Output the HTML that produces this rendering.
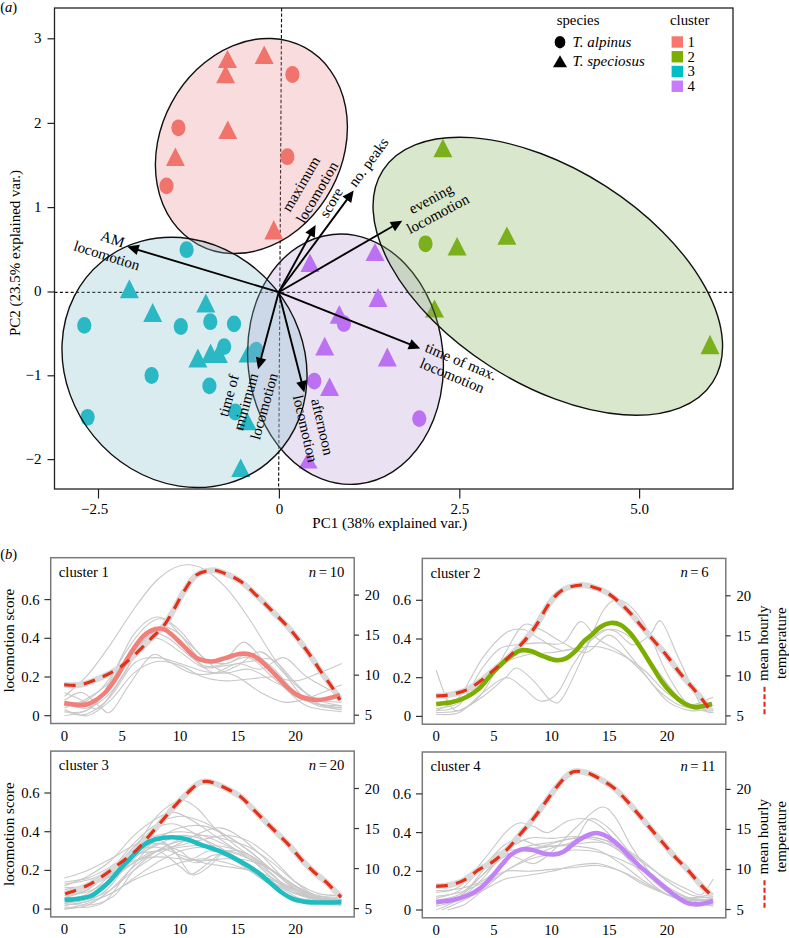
<!DOCTYPE html>
<html><head><meta charset="utf-8"><title>figure</title>
<style>html,body{margin:0;padding:0;background:#fff;}svg{display:block;font-family:"Liberation Serif",serif;}</style>
</head><body>
<svg width="789" height="938" viewBox="0 0 789 938" font-family="Liberation Serif, serif">
<rect width="789" height="938" fill="#fff"/>
<defs>
<clipPath id="pa"><rect x="54.5" y="8" width="678.5" height="481"/></clipPath>
</defs>
<g clip-path="url(#pa)">
<line x1="54.5" y1="292.3" x2="733" y2="292.3" stroke="#111" stroke-width="1.25" stroke-dasharray="3,2.4"/>
<line x1="281.6" y1="8" x2="278.6" y2="489" stroke="#111" stroke-width="1.15" stroke-dasharray="3.4,2"/>
<ellipse cx="292.4" cy="74.5" rx="7.1" ry="8.4" fill="rgb(244,105,92)"/>
<ellipse cx="178.4" cy="127.8" rx="7.1" ry="8.4" fill="rgb(244,105,92)"/>
<ellipse cx="287.4" cy="156.7" rx="7.1" ry="8.4" fill="rgb(244,105,92)"/>
<ellipse cx="166.5" cy="185.9" rx="7.1" ry="8.4" fill="rgb(244,105,92)"/>
<polygon points="227.5,50.1 218,68.1 237,68.1" fill="rgb(244,105,92)"/>
<polygon points="225.6,65 216.1,83.2 235.1,83.2" fill="rgb(244,105,92)"/>
<polygon points="264.2,45.5 254.7,64.1 273.7,64.1" fill="rgb(244,105,92)"/>
<polygon points="227.8,120.4 218.3,139.1 237.3,139.1" fill="rgb(244,105,92)"/>
<polygon points="175.4,147.4 165.9,166 184.9,166" fill="rgb(244,105,92)"/>
<polygon points="273.8,220.1 264.3,239.6 283.3,239.6" fill="rgb(244,105,92)"/>
<ellipse cx="425.5" cy="243.8" rx="7.1" ry="8.4" fill="rgb(119,175,0)"/>
<polygon points="434.5,299.4 425,317.6 444,317.6" fill="rgb(119,175,0)"/>
<polygon points="442.9,138.7 433.4,157.2 452.4,157.2" fill="rgb(119,175,0)"/>
<polygon points="457.1,237 447.6,255.4 466.6,255.4" fill="rgb(119,175,0)"/>
<polygon points="506.9,226.4 497.4,244.8 516.4,244.8" fill="rgb(119,175,0)"/>
<polygon points="710,334.8 700.5,354.2 719.5,354.2" fill="rgb(119,175,0)"/>
<ellipse cx="186.6" cy="249.7" rx="7.1" ry="8.4" fill="rgb(0,181,192)"/>
<ellipse cx="84.3" cy="325.4" rx="7.1" ry="8.4" fill="rgb(0,181,192)"/>
<ellipse cx="180.8" cy="326.5" rx="7.1" ry="8.4" fill="rgb(0,181,192)"/>
<ellipse cx="210.3" cy="321.7" rx="7.1" ry="8.4" fill="rgb(0,181,192)"/>
<ellipse cx="234" cy="323.9" rx="7.1" ry="8.4" fill="rgb(0,181,192)"/>
<ellipse cx="224.2" cy="346.6" rx="7.1" ry="8.4" fill="rgb(0,181,192)"/>
<ellipse cx="256.2" cy="350.1" rx="7.1" ry="8.4" fill="rgb(0,181,192)"/>
<ellipse cx="151.6" cy="375.5" rx="7.1" ry="8.4" fill="rgb(0,181,192)"/>
<ellipse cx="209.4" cy="385.9" rx="7.1" ry="8.4" fill="rgb(0,181,192)"/>
<ellipse cx="87.6" cy="417.3" rx="7.1" ry="8.4" fill="rgb(0,181,192)"/>
<ellipse cx="235.3" cy="412" rx="7.1" ry="8.4" fill="rgb(0,181,192)"/>
<polygon points="129.4,279.2 119.9,298.2 138.9,298.2" fill="rgb(0,181,192)"/>
<polygon points="152.7,303 143.2,321.9 162.2,321.9" fill="rgb(0,181,192)"/>
<polygon points="205.8,293.5 196.3,312.4 215.3,312.4" fill="rgb(0,181,192)"/>
<polygon points="197.9,348.6 188.4,367.4 207.4,367.4" fill="rgb(0,181,192)"/>
<polygon points="210.6,343.5 201.1,363 220.1,363" fill="rgb(0,181,192)"/>
<polygon points="218.4,344.1 208.9,363 227.9,363" fill="rgb(0,181,192)"/>
<polygon points="248,344.8 238.5,362.5 257.5,362.5" fill="rgb(0,181,192)"/>
<polygon points="247.3,412.4 237.8,430.2 256.8,430.2" fill="rgb(0,181,192)"/>
<polygon points="240.7,458.6 231.2,477 250.2,477" fill="rgb(0,181,192)"/>
<ellipse cx="343.9" cy="323.6" rx="7.1" ry="8.4" fill="rgb(189,92,255)"/>
<ellipse cx="314.3" cy="381.1" rx="7.1" ry="8.4" fill="rgb(189,92,255)"/>
<ellipse cx="419.3" cy="418.6" rx="7.1" ry="8.4" fill="rgb(189,92,255)"/>
<polygon points="310,253.6 300.5,272.1 319.5,272.1" fill="rgb(189,92,255)"/>
<polygon points="375,243 365.5,260.9 384.5,260.9" fill="rgb(189,92,255)"/>
<polygon points="378,288.1 368.5,307.1 387.5,307.1" fill="rgb(189,92,255)"/>
<polygon points="339.3,304.9 329.8,323.8 348.8,323.8" fill="rgb(189,92,255)"/>
<polygon points="324.7,336.8 315.2,355.6 334.2,355.6" fill="rgb(189,92,255)"/>
<polygon points="387.3,347.5 377.8,366.6 396.8,366.6" fill="rgb(189,92,255)"/>
<polygon points="329.6,377.4 320.1,396.1 339.1,396.1" fill="rgb(189,92,255)"/>
<polygon points="308.1,451.9 298.6,468.6 317.6,468.6" fill="rgb(189,92,255)"/>
<ellipse cx="251.4" cy="146" rx="90.8" ry="112" transform="rotate(-151.6 251.4 146)" fill="rgb(232,138,145)" fill-opacity="0.3" stroke="#111" stroke-width="1.4"/>
<ellipse cx="345.5" cy="359.2" rx="97.6" ry="125.4" transform="rotate(174.2 345.5 359.2)" fill="rgb(185,158,212)" fill-opacity="0.3" stroke="#111" stroke-width="1.4"/>
<ellipse cx="184.5" cy="362.4" rx="117" ry="130.3" transform="rotate(140.6 184.5 362.4)" fill="rgb(135,192,205)" fill-opacity="0.3" stroke="#111" stroke-width="1.4"/>
<ellipse cx="547.8" cy="276.2" rx="107" ry="196" transform="rotate(122.7 547.8 276.2)" fill="rgb(128,178,88)" fill-opacity="0.3" stroke="#111" stroke-width="1.4"/>
</g>
<line x1="278.7" y1="292.2" x2="136.3" y2="249.34" stroke="#000" stroke-width="1.9"/>
<polygon points="127.2,246.6 139.77,244.74 136.66,255.09" fill="#000"/>
<line x1="278.7" y1="292.2" x2="311.03" y2="233.33" stroke="#000" stroke-width="1.9"/>
<polygon points="315.6,225 314.8,237.68 305.33,232.48" fill="#000"/>
<line x1="278.7" y1="292.2" x2="348.06" y2="198.15" stroke="#000" stroke-width="1.9"/>
<polygon points="353.7,190.5 351.22,202.96 342.53,196.55" fill="#000"/>
<line x1="278.7" y1="292.2" x2="394.07" y2="225.55" stroke="#000" stroke-width="1.9"/>
<polygon points="402.3,220.8 395.04,231.23 389.64,221.88" fill="#000"/>
<line x1="278.7" y1="292.2" x2="411.37" y2="344.89" stroke="#000" stroke-width="1.9"/>
<polygon points="420.2,348.4 407.52,349.17 411.51,339.14" fill="#000"/>
<line x1="278.7" y1="292.2" x2="260.56" y2="360.02" stroke="#000" stroke-width="1.9"/>
<polygon points="258.1,369.2 255.86,356.7 266.29,359.49" fill="#000"/>
<line x1="278.7" y1="292.2" x2="301.95" y2="383.3" stroke="#000" stroke-width="1.9"/>
<polygon points="304.3,392.5 296.22,382.69 306.69,380.02" fill="#000"/>
<text x="111.1" y="243.8" font-size="15" text-anchor="middle" transform="rotate(18 111.1 243.8)" fill="#000">AM</text>
<text x="105.26" y="260.28" font-size="15" text-anchor="middle" transform="rotate(17.6 105.26 260.28)" fill="#000">locomotion</text>
<text x="305.37" y="186.44" font-size="15" text-anchor="middle" transform="rotate(-59.7 305.37 186.44)" fill="#000">maximum</text>
<text x="321.47" y="194.84" font-size="15" text-anchor="middle" transform="rotate(-59.7 321.47 194.84)" fill="#000">locomotion</text>
<text x="335.47" y="205.04" font-size="15" text-anchor="middle" transform="rotate(-59.7 335.47 205.04)" fill="#000">score</text>
<text x="372.57" y="165.24" font-size="15" text-anchor="middle" transform="rotate(-53.7 372.57 165.24)" fill="#000">no. peaks</text>
<text x="433.32" y="203.14" font-size="15" text-anchor="middle" transform="rotate(-28 433.32 203.14)" fill="#000">evening</text>
<text x="440.12" y="218.34" font-size="15" text-anchor="middle" transform="rotate(-28 440.12 218.34)" fill="#000">locomotion</text>
<text x="459.07" y="365.97" font-size="15" text-anchor="middle" transform="rotate(22.8 459.07 365.97)" fill="#000">time of max.</text>
<text x="450.27" y="380.27" font-size="15" text-anchor="middle" transform="rotate(22.8 450.27 380.27)" fill="#000">locomotion</text>
<text x="233.42" y="396.82" font-size="15" text-anchor="middle" transform="rotate(-74.5 233.42 396.82)" fill="#000">time of</text>
<text x="250.52" y="403.22" font-size="15" text-anchor="middle" transform="rotate(-74.5 250.52 403.22)" fill="#000">minimum</text>
<text x="268.82" y="407.62" font-size="15" text-anchor="middle" transform="rotate(-74.5 268.82 407.62)" fill="#000">locomotion</text>
<text x="317.55" y="427.97" font-size="15" text-anchor="middle" transform="rotate(77 317.55 427.97)" fill="#000">afternoon</text>
<text x="300.45" y="429.87" font-size="15" text-anchor="middle" transform="rotate(77 300.45 429.87)" fill="#000">locomotion</text>
<rect x="54.5" y="8" width="678.5" height="481" fill="none" stroke="#222" stroke-width="1.3"/>
<line x1="47.5" y1="38.8" x2="54.5" y2="38.8" stroke="#222" stroke-width="1.2"/>
<text x="41.5" y="43" font-size="15" text-anchor="end" fill="#000">3</text>
<line x1="47.5" y1="123.4" x2="54.5" y2="123.4" stroke="#222" stroke-width="1.2"/>
<text x="41.5" y="127.6" font-size="15" text-anchor="end" fill="#000">2</text>
<line x1="47.5" y1="207.6" x2="54.5" y2="207.6" stroke="#222" stroke-width="1.2"/>
<text x="41.5" y="211.8" font-size="15" text-anchor="end" fill="#000">1</text>
<line x1="47.5" y1="292" x2="54.5" y2="292" stroke="#222" stroke-width="1.2"/>
<text x="41.5" y="296.2" font-size="15" text-anchor="end" fill="#000">0</text>
<line x1="47.5" y1="375.8" x2="54.5" y2="375.8" stroke="#222" stroke-width="1.2"/>
<text x="41.5" y="380" font-size="15" text-anchor="end" fill="#000">−1</text>
<line x1="47.5" y1="459.6" x2="54.5" y2="459.6" stroke="#222" stroke-width="1.2"/>
<text x="41.5" y="463.8" font-size="15" text-anchor="end" fill="#000">−2</text>
<line x1="98.5" y1="489" x2="98.5" y2="498.5" stroke="#222" stroke-width="1.2"/>
<text x="94.7" y="514" font-size="15" text-anchor="middle" fill="#000">−2.5</text>
<line x1="279.4" y1="489" x2="279.4" y2="498.5" stroke="#222" stroke-width="1.2"/>
<text x="279.4" y="514" font-size="15" text-anchor="middle" fill="#000">0</text>
<line x1="459.8" y1="489" x2="459.8" y2="498.5" stroke="#222" stroke-width="1.2"/>
<text x="459.8" y="514" font-size="15" text-anchor="middle" fill="#000">2.5</text>
<line x1="639.6" y1="489" x2="639.6" y2="498.5" stroke="#222" stroke-width="1.2"/>
<text x="639.6" y="514" font-size="15" text-anchor="middle" fill="#000">5.0</text>
<text x="389.8" y="528.4" font-size="15" text-anchor="middle" fill="#000">PC1 (38% explained var.)</text>
<text x="19.8" y="253" font-size="15" text-anchor="middle" transform="rotate(-90 19.8 253)" fill="#000">PC2 (23.5% explained var.)</text>
<text x="0.2" y="12.2" font-size="14.6">(<tspan font-style="italic">a</tspan>)</text>
<text x="556.7" y="25.2" font-size="14.8" text-anchor="start" fill="#000">species</text>
<text x="670" y="25.2" font-size="14.8" text-anchor="start" fill="#000">cluster</text>
<ellipse cx="560" cy="42.2" rx="5.3" ry="6.2" fill="#000"/>
<polygon points="560,55.3 553,67.2 567,67.2" fill="#000"/>
<text x="572.5" y="46.7" font-size="15" text-anchor="start" font-style="italic" fill="#000">T. alpinus</text>
<text x="572.5" y="66.3" font-size="15" text-anchor="start" font-style="italic" fill="#000">T. speciosus</text>
<rect x="671.6" y="36.3" width="11.4" height="11.4" fill="#F8766D"/>
<text x="687.4" y="46.9" font-size="14.8" text-anchor="start" fill="#000">1</text>
<rect x="671.6" y="51.05" width="11.4" height="11.4" fill="#7CAE00"/>
<text x="687.4" y="61.65" font-size="14.8" text-anchor="start" fill="#000">2</text>
<rect x="671.6" y="65.8" width="11.4" height="11.4" fill="#00BFC4"/>
<text x="687.4" y="76.4" font-size="14.8" text-anchor="start" fill="#000">3</text>
<rect x="671.6" y="80.55" width="11.4" height="11.4" fill="#C77CFF"/>
<text x="687.4" y="91.15" font-size="14.8" text-anchor="start" fill="#000">4</text>
<text x="0.2" y="558.6" font-size="14.6">(<tspan font-style="italic">b</tspan>)</text>
<clipPath id="pb0"><rect x="50.7" y="557.7" width="303.5" height="165.8"/></clipPath>
<g clip-path="url(#pb0)">
<path d="M64.5,696.35 C68.35,692.8 79.9,683.77 87.6,675.07 C95.3,666.36 103,655.07 110.7,644.11 C118.4,633.14 126.1,619.92 133.8,609.28 C141.5,598.63 149.2,587.51 156.9,580.25 C164.6,572.99 172.3,567.67 180,565.74 C187.7,563.8 195.4,564.93 203.1,568.64 C210.8,572.35 218.5,579.61 226.2,587.99 C233.9,596.38 241.6,607.66 249.3,618.95 C257,630.24 264.7,644.75 272.4,655.72 C280.1,666.68 287.8,677.32 295.5,684.74 C303.2,692.16 310.9,696.67 318.6,700.22 C326.3,703.77 337.85,705.06 341.7,706.03" fill="none" stroke="#C8C8C8" stroke-width="1.1"/>
<path d="M64.5,706.03 C68.35,705.06 79.9,705.06 87.6,700.22 C95.3,695.38 103,687.97 110.7,677 C118.4,666.03 126.1,644.43 133.8,634.43 C141.5,624.43 149.2,617.66 156.9,617.02 C164.6,616.37 172.3,623.79 180,630.56 C187.7,637.33 195.4,652.17 203.1,657.65 C210.8,663.13 218.5,664.1 226.2,663.46 C233.9,662.81 241.6,653.14 249.3,653.78 C257,654.43 264.7,660.88 272.4,667.33 C280.1,673.78 287.8,686.03 295.5,692.48 C303.2,698.93 310.9,703.45 318.6,706.03 C326.3,708.61 337.85,707.64 341.7,707.96" fill="none" stroke="#C8C8C8" stroke-width="1.1"/>
<path d="M64.5,711.83 C67.39,711.83 76.05,713.77 81.83,711.83 C87.6,709.89 92.41,709.25 99.15,700.22 C105.89,691.19 114.55,669.91 122.25,657.65 C129.95,645.4 138.61,633.14 145.35,626.69 C152.09,620.24 156.9,617.66 162.68,618.95 C168.45,620.24 173.26,627.34 180,634.43 C186.74,641.53 195.4,657.65 203.1,661.52 C210.8,665.39 219.46,660.88 226.2,657.65 C232.94,654.43 237.75,642.17 243.53,642.17 C249.3,642.17 254.11,650.23 260.85,657.65 C267.59,665.07 276.25,678.61 283.95,686.68 C291.65,694.74 297.43,701.83 307.05,706.03 C316.68,710.22 335.93,710.86 341.7,711.83" fill="none" stroke="#C8C8C8" stroke-width="1.1"/>
<path d="M64.5,700.22 C67.39,698.93 76.05,691.51 81.83,692.48 C87.6,693.45 94.34,702.8 99.15,706.03 C103.96,709.25 105.89,715.06 110.7,711.83 C115.51,708.61 121.29,696.03 128.03,686.68 C134.76,677.32 144.39,659.91 151.12,655.72 C157.86,651.52 161.71,658.62 168.45,661.52 C175.19,664.42 183.85,671.19 191.55,673.13 C199.25,675.07 206.95,674.74 214.65,673.13 C222.35,671.52 230.05,664.1 237.75,663.46 C245.45,662.81 253.15,670.23 260.85,669.26 C268.55,668.29 276.25,656.36 283.95,657.65 C291.65,658.94 297.43,670.55 307.05,677 C316.68,683.45 335.93,693.12 341.7,696.35" fill="none" stroke="#C8C8C8" stroke-width="1.1"/>
<path d="M64.5,709.9 C68.35,710.86 79.9,717.31 87.6,715.7 C95.3,714.09 103,707.32 110.7,700.22 C118.4,693.12 126.1,679.58 133.8,673.13 C141.5,666.68 149.2,662.81 156.9,661.52 C164.6,660.23 172.3,662.81 180,665.39 C187.7,667.97 195.4,674.42 203.1,677 C210.8,679.58 218.5,680.55 226.2,680.87 C233.9,681.19 241.6,679.58 249.3,678.94 C257,678.29 264.7,676.68 272.4,677 C280.1,677.32 287.8,681.51 295.5,680.87 C303.2,680.23 310.9,676.03 318.6,673.13 C326.3,670.23 337.85,665.07 341.7,663.46" fill="none" stroke="#C8C8C8" stroke-width="1.1"/>
<path d="M64.5,715.7 C68.35,714.73 79.9,714.73 87.6,709.9 C95.3,705.06 103,696.35 110.7,686.68 C118.4,677 127.06,660.55 133.8,651.85 C140.54,643.14 145.35,636.69 151.12,634.43 C156.9,632.17 161.71,634.43 168.45,638.3 C175.19,642.17 183.85,651.85 191.55,657.65 C199.25,663.46 206.95,671.84 214.65,673.13 C222.35,674.42 230.05,668.94 237.75,665.39 C245.45,661.84 253.15,650.56 260.85,651.85 C268.55,653.13 276.25,665.07 283.95,673.13 C291.65,681.19 297.43,694.41 307.05,700.22 C316.68,706.03 335.93,706.67 341.7,707.96" fill="none" stroke="#C8C8C8" stroke-width="1.1"/>
<path d="M64.5,704.09 C68.35,704.74 79.9,709.89 87.6,707.96 C95.3,706.03 103,700.87 110.7,692.48 C118.4,684.1 126.1,668.29 133.8,657.65 C141.5,647.01 150.16,633.14 156.9,628.62 C163.64,624.11 168.45,627.66 174.23,630.56 C180,633.46 184.81,639.91 191.55,646.04 C198.29,652.17 206.95,662.17 214.65,667.33 C222.35,672.49 230.05,672.81 237.75,677 C245.45,681.19 253.15,688.29 260.85,692.48 C268.55,696.67 276.25,701.19 283.95,702.16 C291.65,703.12 297.43,701.19 307.05,698.29 C316.68,695.38 335.93,687 341.7,684.74" fill="none" stroke="#C8C8C8" stroke-width="1.1"/>
<path d="M64.5,692.48 C67.39,693.77 76.05,697.64 81.83,700.22 C87.6,702.8 92.41,711.83 99.15,707.96 C105.89,704.09 114.55,688.61 122.25,677 C129.95,665.39 138.61,646.69 145.35,638.3 C152.09,629.92 156.9,626.05 162.68,626.69 C168.45,627.34 173.26,635.72 180,642.17 C186.74,648.62 195.4,661.84 203.1,665.39 C210.8,668.94 218.5,664.75 226.2,663.46 C233.9,662.17 241.6,655.39 249.3,657.65 C257,659.91 264.7,670.55 272.4,677 C280.1,683.45 287.8,691.84 295.5,696.35 C303.2,700.87 310.9,702.48 318.6,704.09 C326.3,705.7 337.85,705.7 341.7,706.03" fill="none" stroke="#C8C8C8" stroke-width="1.1"/>
<path d="M70.28,713.77 C73.16,713.77 80.86,716.67 87.6,713.77 C94.34,710.86 103,704.74 110.7,696.35 C118.4,687.97 126.1,669.9 133.8,663.46 C141.5,657.01 149.2,657.65 156.9,657.65 C164.6,657.65 172.3,661.2 180,663.46 C187.7,665.71 195.4,669.58 203.1,671.2 C210.8,672.81 218.5,673.45 226.2,673.13 C233.9,672.81 241.6,667.97 249.3,669.26 C257,670.55 264.7,677 272.4,680.87 C280.1,684.74 287.8,689.25 295.5,692.48 C303.2,695.71 310.9,698.61 318.6,700.22 C326.3,701.83 337.85,701.83 341.7,702.16" fill="none" stroke="#C8C8C8" stroke-width="1.1"/>
<path d="M64.5,707.96 C68.35,706.35 79.9,702.8 87.6,698.29 C95.3,693.77 103,689.25 110.7,680.87 C118.4,672.49 126.1,655.07 133.8,647.98 C141.5,640.88 149.2,637.66 156.9,638.3 C164.6,638.95 172.3,647.01 180,651.85 C187.7,656.68 195.4,665.07 203.1,667.33 C210.8,669.58 218.5,666.36 226.2,665.39 C233.9,664.42 241.6,662.49 249.3,661.52 C257,660.55 264.7,656.04 272.4,659.59 C280.1,663.13 287.8,675.39 295.5,682.81 C303.2,690.22 310.9,699.58 318.6,704.09 C326.3,708.61 337.85,708.93 341.7,709.9" fill="none" stroke="#C8C8C8" stroke-width="1.1"/>
<path d="M64.2,684.8 C66.9,684.8 73.98,686.15 80.4,684.8 C86.82,683.45 95.93,679.73 102.7,676.7 C109.47,673.67 115.25,670.65 121,666.6 C126.75,662.55 132.13,657.13 137.2,652.4 C142.27,647.67 147,642.6 151.4,638.2 C155.8,633.8 159.88,630.73 163.6,626 C167.32,621.27 170.32,615.55 173.7,609.8 C177.08,604.05 180.18,597.25 183.9,591.5 C187.62,585.75 191.28,578.85 196,575.3 C200.72,571.75 207.48,570.53 212.2,570.2 C216.92,569.87 219.57,571.43 224.3,573.3 C229.03,575.17 235.18,577.68 240.6,581.4 C246.02,585.12 251.73,590.87 256.8,595.6 C261.87,600.33 266.27,605.07 271,609.8 C275.73,614.53 280.8,619.27 285.2,624 C289.6,628.73 293.35,633.13 297.4,638.2 C301.45,643.27 305.45,648.67 309.5,654.4 C313.55,660.13 317.98,667.2 321.7,672.6 C325.42,678 328.75,682.23 331.8,686.8 C334.85,691.37 338.63,697.8 340,700" fill="none" stroke="#DADADA" stroke-width="6" stroke-linecap="butt"/>
<path d="M64.2,703.1 C66.9,703.43 76,705.1 80.4,705.1 C84.8,705.1 86.53,705.12 90.6,703.1 C94.67,701.08 100.42,697.4 104.8,693 C109.18,688.6 112.52,683.47 116.9,676.7 C121.28,669.93 126.7,659.17 131.1,652.4 C135.5,645.63 139.23,640 143.3,636.1 C147.37,632.2 151.78,630.02 155.5,629 C159.22,627.98 161.88,628.13 165.6,630 C169.32,631.87 173.4,636.13 177.8,640.2 C182.2,644.27 188.3,651.18 192,654.4 C195.7,657.62 196.63,658.32 200,659.5 C203.37,660.68 208.15,661.68 212.2,661.5 C216.25,661.32 219.57,659.68 224.3,658.4 C229.03,657.12 235.87,654.3 240.6,653.8 C245.33,653.3 248.65,653.62 252.7,655.4 C256.75,657.18 260.83,660.95 264.9,664.5 C268.97,668.05 273.05,672.63 277.1,676.7 C281.15,680.77 285.15,685.52 289.2,688.9 C293.25,692.28 296.67,695.15 301.4,697 C306.13,698.85 312.87,699.83 317.6,700 C322.33,700.17 326.07,698.83 329.8,698 C333.53,697.17 338.3,695.5 340,695" fill="none" stroke="#F2807A" stroke-width="4.6"/>
<path d="M64.2,684.8 C66.9,684.8 73.98,686.15 80.4,684.8 C86.82,683.45 95.93,679.73 102.7,676.7 C109.47,673.67 115.25,670.65 121,666.6 C126.75,662.55 132.13,657.13 137.2,652.4 C142.27,647.67 147,642.6 151.4,638.2 C155.8,633.8 159.88,630.73 163.6,626 C167.32,621.27 170.32,615.55 173.7,609.8 C177.08,604.05 180.18,597.25 183.9,591.5 C187.62,585.75 191.28,578.85 196,575.3 C200.72,571.75 207.48,570.53 212.2,570.2 C216.92,569.87 219.57,571.43 224.3,573.3 C229.03,575.17 235.18,577.68 240.6,581.4 C246.02,585.12 251.73,590.87 256.8,595.6 C261.87,600.33 266.27,605.07 271,609.8 C275.73,614.53 280.8,619.27 285.2,624 C289.6,628.73 293.35,633.13 297.4,638.2 C301.45,643.27 305.45,648.67 309.5,654.4 C313.55,660.13 317.98,667.2 321.7,672.6 C325.42,678 328.75,682.23 331.8,686.8 C334.85,691.37 338.63,697.8 340,700" fill="none" stroke="#E5301A" stroke-width="3.2" stroke-dasharray="11.5,8.5"/>
</g>
<rect x="50.7" y="557.7" width="303.5" height="165.8" fill="none" stroke="#7a7a7a" stroke-width="1.5"/>
<line x1="44.4" y1="715.7" x2="50.7" y2="715.7" stroke="#333" stroke-width="1.2"/>
<text x="39.5" y="720.7" font-size="14.7" text-anchor="end" fill="#000">0</text>
<line x1="44.4" y1="677" x2="50.7" y2="677" stroke="#333" stroke-width="1.2"/>
<text x="39.5" y="682" font-size="14.7" text-anchor="end" fill="#000">0.2</text>
<line x1="44.4" y1="638.3" x2="50.7" y2="638.3" stroke="#333" stroke-width="1.2"/>
<text x="39.5" y="643.3" font-size="14.7" text-anchor="end" fill="#000">0.4</text>
<line x1="44.4" y1="599.6" x2="50.7" y2="599.6" stroke="#333" stroke-width="1.2"/>
<text x="39.5" y="604.6" font-size="14.7" text-anchor="end" fill="#000">0.6</text>
<line x1="354.2" y1="715.2" x2="359" y2="715.2" stroke="#333" stroke-width="1.2"/>
<text x="364.8" y="720.2" font-size="14.7" text-anchor="start" fill="#000">5</text>
<line x1="354.2" y1="675.17" x2="359" y2="675.17" stroke="#333" stroke-width="1.2"/>
<text x="364.8" y="680.17" font-size="14.7" text-anchor="start" fill="#000">10</text>
<line x1="354.2" y1="635.13" x2="359" y2="635.13" stroke="#333" stroke-width="1.2"/>
<text x="364.8" y="640.13" font-size="14.7" text-anchor="start" fill="#000">15</text>
<line x1="354.2" y1="595.1" x2="359" y2="595.1" stroke="#333" stroke-width="1.2"/>
<text x="364.8" y="600.1" font-size="14.7" text-anchor="start" fill="#000">20</text>
<text x="64.5" y="740.5" font-size="14.7" text-anchor="middle" fill="#000">0</text>
<text x="122.25" y="740.5" font-size="14.7" text-anchor="middle" fill="#000">5</text>
<text x="180" y="740.5" font-size="14.7" text-anchor="middle" fill="#000">10</text>
<text x="237.75" y="740.5" font-size="14.7" text-anchor="middle" fill="#000">15</text>
<text x="295.5" y="740.5" font-size="14.7" text-anchor="middle" fill="#000">20</text>
<text x="58.8" y="576.8" font-size="14.7" text-anchor="start" fill="#000">cluster 1</text>
<text x="308.8" y="576.7" font-size="14.7"><tspan font-style="italic">n</tspan><tspan dx="2.6">=</tspan><tspan dx="2.6">10</tspan></text>
<text x="14.5" y="640.7" font-size="15" text-anchor="middle" transform="rotate(-90 14.5 640.7)" fill="#000">locomotion score</text>
<clipPath id="pb1"><rect x="422.3" y="558.4" width="303.5" height="165.8"/></clipPath>
<g clip-path="url(#pb1)">
<path d="M436.1,669.96 C438.03,675.12 443.8,694.15 447.65,700.92 C451.5,707.69 453.43,711.88 459.2,710.6 C464.98,709.31 474.6,702.86 482.3,693.18 C490,683.5 498.66,663.83 505.4,652.54 C512.14,641.26 516.95,629.32 522.73,625.45 C528.5,621.58 533.31,626.42 540.05,629.32 C546.79,632.23 555.45,639 563.15,642.87 C570.85,646.74 578.55,653.83 586.25,652.54 C593.95,651.25 601.65,634.16 609.35,635.13 C617.05,636.1 624.75,649.64 632.45,658.35 C640.15,667.06 647.85,679.63 655.55,687.38 C663.25,695.12 669.03,700.6 678.65,704.79 C688.28,708.98 707.53,711.24 713.3,712.53" fill="none" stroke="#C8C8C8" stroke-width="1.1"/>
<path d="M436.1,710.6 C439.95,709.63 451.5,711.88 459.2,704.79 C466.9,697.69 475.56,677.38 482.3,668.02 C489.04,658.67 493.85,652.54 499.62,648.67 C505.4,644.8 510.21,645.77 516.95,644.8 C523.69,643.84 532.35,643.19 540.05,642.87 C547.75,642.55 556.41,646.42 563.15,642.87 C569.89,639.32 574.7,622.23 580.48,621.59 C586.25,620.94 591.06,633.84 597.8,639 C604.54,644.16 613.2,646.74 620.9,652.54 C628.6,658.35 636.3,665.77 644,673.83 C651.7,681.89 659.4,694.79 667.1,700.92 C674.8,707.05 682.5,709.31 690.2,710.6 C697.9,711.88 709.45,708.98 713.3,708.66" fill="none" stroke="#C8C8C8" stroke-width="1.1"/>
<path d="M436.1,712.53 C439.95,712.21 451.5,713.18 459.2,710.6 C466.9,708.01 474.6,702.53 482.3,697.05 C490,691.57 499.62,682.54 505.4,677.7 C511.18,672.86 512.14,667.38 516.95,668.02 C521.76,668.67 528.5,676.09 534.28,681.57 C540.05,687.05 546.79,698.34 551.6,700.92 C556.41,703.5 557.38,705.76 563.15,697.05 C568.93,688.34 579.51,663.19 586.25,648.67 C592.99,634.16 597.8,618.04 603.58,609.97 C609.35,601.91 614.16,598.04 620.9,600.3 C627.64,602.56 636.3,611.26 644,623.52 C651.7,635.77 659.4,659.96 667.1,673.83 C674.8,687.7 682.5,700.6 690.2,706.73 C697.9,712.85 709.45,709.95 713.3,710.6" fill="none" stroke="#C8C8C8" stroke-width="1.1"/>
<path d="M436.1,714.47 C439.95,714.14 451.5,716.08 459.2,712.53 C466.9,708.98 474.6,698.98 482.3,693.18 C490,687.38 498.66,678.67 505.4,677.7 C512.14,676.73 516.95,683.5 522.73,687.38 C528.5,691.25 534.28,699.95 540.05,700.92 C545.83,701.89 551.6,699.63 557.38,693.18 C563.15,686.73 567.96,672.22 574.7,662.22 C581.44,652.22 591.06,638.35 597.8,633.19 C604.54,628.03 609.35,629.33 615.12,631.26 C620.9,633.19 626.68,644.16 632.45,644.8 C638.23,645.45 644.96,639 649.78,635.13 C654.59,631.26 656.51,617.72 661.33,621.59 C666.14,625.46 671.91,644.16 678.65,658.35 C685.39,672.54 695.98,697.7 701.75,706.73 C707.52,715.75 711.38,711.56 713.3,712.53" fill="none" stroke="#C8C8C8" stroke-width="1.1"/>
<path d="M436.1,710.6 C439.95,708.34 451.5,705.76 459.2,697.05 C466.9,688.34 474.6,668.99 482.3,658.35 C490,647.71 498.66,638.03 505.4,633.19 C512.14,628.36 516.95,628.36 522.73,629.32 C528.5,630.29 533.31,635.45 540.05,639 C546.79,642.55 555.45,649.97 563.15,650.61 C570.85,651.25 578.55,646.42 586.25,642.87 C593.95,639.32 601.65,629.97 609.35,629.32 C617.05,628.68 624.75,632.55 632.45,639 C640.15,645.45 647.85,658.35 655.55,668.02 C663.25,677.7 670.95,690.28 678.65,697.05 C686.35,703.82 695.98,707.37 701.75,708.66 C707.52,709.95 711.38,705.43 713.3,704.79" fill="none" stroke="#C8C8C8" stroke-width="1.1"/>
<path d="M436.1,708.66 C439.95,707.69 451.5,707.37 459.2,702.86 C466.9,698.34 474.6,688.34 482.3,681.57 C490,674.8 497.7,666.74 505.4,662.22 C513.1,657.71 520.8,656.09 528.5,654.48 C536.2,652.87 543.9,653.51 551.6,652.54 C559.3,651.58 567,649.64 574.7,648.67 C582.4,647.71 590.1,645.77 597.8,646.74 C605.5,647.71 613.2,650.61 620.9,654.48 C628.6,658.35 636.3,663.51 644,669.96 C651.7,676.41 659.4,687.38 667.1,693.18 C674.8,698.98 682.5,704.14 690.2,704.79 C697.9,705.43 709.45,698.34 713.3,697.05" fill="none" stroke="#C8C8C8" stroke-width="1.1"/>
<path d="M436.2,696 C438.57,695.77 445.33,695.62 450.4,694.6 C455.47,693.58 461.53,692.2 466.6,689.9 C471.67,687.6 476.4,684.02 480.8,680.8 C485.2,677.58 488.6,674.33 493,670.6 C497.4,666.87 502.47,662.8 507.2,658.4 C511.93,654 517.35,648.58 521.4,644.2 C525.45,639.82 528.47,636.15 531.5,632.1 C534.53,628.05 536.88,624.3 539.6,619.9 C542.32,615.5 544.75,610.1 547.8,605.7 C550.85,601.3 554.53,596.53 557.9,593.5 C561.27,590.47 563.95,588.92 568,587.5 C572.05,586.08 577.82,585 582.2,585 C586.58,585 590.25,586.25 594.3,587.5 C598.35,588.75 602.43,590.13 606.5,592.5 C610.57,594.87 614.63,598.15 618.7,601.7 C622.77,605.25 626.85,609.42 630.9,613.8 C634.95,618.18 638.95,623.27 643,628 C647.05,632.73 651.13,637.47 655.2,642.2 C659.27,646.93 663.35,651.33 667.4,656.4 C671.45,661.47 675.45,667.53 679.5,672.6 C683.55,677.67 687.98,682.4 691.7,686.8 C695.42,691.2 698.58,694.93 701.8,699 C705.02,703.07 709.47,709.17 711,711.2" fill="none" stroke="#DADADA" stroke-width="6" stroke-linecap="butt"/>
<path d="M436.2,704.1 C438.9,703.77 447.33,703.28 452.4,702.1 C457.47,700.92 462.2,699.2 466.6,697 C471,694.8 474.73,692.62 478.8,688.9 C482.87,685.18 486.95,679.1 491,674.7 C495.05,670.3 499.38,665.88 503.1,662.5 C506.82,659.12 510.25,656.43 513.3,654.4 C516.35,652.37 518.37,650.82 521.4,650.3 C524.43,649.78 527.78,650.28 531.5,651.3 C535.22,652.32 539.63,654.93 543.7,656.4 C547.77,657.87 552.18,659.77 555.9,660.1 C559.62,660.43 562.62,660.03 566,658.4 C569.38,656.77 573.2,653.2 576.2,650.3 C579.2,647.4 581.65,643.37 584,641 C586.35,638.63 587.57,638.43 590.3,636.1 C593.03,633.77 597.02,629.18 600.4,627 C603.78,624.82 607.22,623.33 610.6,623 C613.98,622.67 617.32,623.15 620.7,625 C624.08,626.85 627.52,630.22 630.9,634.1 C634.28,637.98 637.63,643.23 641,648.3 C644.37,653.37 647.72,659.08 651.1,664.5 C654.48,669.92 657.92,676.07 661.3,680.8 C664.68,685.53 667.68,689.18 671.4,692.9 C675.12,696.62 679.53,700.73 683.6,703.1 C687.67,705.47 691.07,706.93 695.8,707.1 C700.53,707.27 709.3,704.6 712,704.1" fill="none" stroke="#7CAE00" stroke-width="4.6"/>
<path d="M436.2,696 C438.57,695.77 445.33,695.62 450.4,694.6 C455.47,693.58 461.53,692.2 466.6,689.9 C471.67,687.6 476.4,684.02 480.8,680.8 C485.2,677.58 488.6,674.33 493,670.6 C497.4,666.87 502.47,662.8 507.2,658.4 C511.93,654 517.35,648.58 521.4,644.2 C525.45,639.82 528.47,636.15 531.5,632.1 C534.53,628.05 536.88,624.3 539.6,619.9 C542.32,615.5 544.75,610.1 547.8,605.7 C550.85,601.3 554.53,596.53 557.9,593.5 C561.27,590.47 563.95,588.92 568,587.5 C572.05,586.08 577.82,585 582.2,585 C586.58,585 590.25,586.25 594.3,587.5 C598.35,588.75 602.43,590.13 606.5,592.5 C610.57,594.87 614.63,598.15 618.7,601.7 C622.77,605.25 626.85,609.42 630.9,613.8 C634.95,618.18 638.95,623.27 643,628 C647.05,632.73 651.13,637.47 655.2,642.2 C659.27,646.93 663.35,651.33 667.4,656.4 C671.45,661.47 675.45,667.53 679.5,672.6 C683.55,677.67 687.98,682.4 691.7,686.8 C695.42,691.2 698.58,694.93 701.8,699 C705.02,703.07 709.47,709.17 711,711.2" fill="none" stroke="#E5301A" stroke-width="3.2" stroke-dasharray="11.5,8.5"/>
</g>
<rect x="422.3" y="558.4" width="303.5" height="165.8" fill="none" stroke="#7a7a7a" stroke-width="1.5"/>
<line x1="416" y1="716.4" x2="422.3" y2="716.4" stroke="#333" stroke-width="1.2"/>
<text x="411.1" y="721.4" font-size="14.7" text-anchor="end" fill="#000">0</text>
<line x1="416" y1="677.7" x2="422.3" y2="677.7" stroke="#333" stroke-width="1.2"/>
<text x="411.1" y="682.7" font-size="14.7" text-anchor="end" fill="#000">0.2</text>
<line x1="416" y1="639" x2="422.3" y2="639" stroke="#333" stroke-width="1.2"/>
<text x="411.1" y="644" font-size="14.7" text-anchor="end" fill="#000">0.4</text>
<line x1="416" y1="600.3" x2="422.3" y2="600.3" stroke="#333" stroke-width="1.2"/>
<text x="411.1" y="605.3" font-size="14.7" text-anchor="end" fill="#000">0.6</text>
<line x1="725.8" y1="715.9" x2="730.6" y2="715.9" stroke="#333" stroke-width="1.2"/>
<text x="736.4" y="720.9" font-size="14.7" text-anchor="start" fill="#000">5</text>
<line x1="725.8" y1="675.87" x2="730.6" y2="675.87" stroke="#333" stroke-width="1.2"/>
<text x="736.4" y="680.87" font-size="14.7" text-anchor="start" fill="#000">10</text>
<line x1="725.8" y1="635.83" x2="730.6" y2="635.83" stroke="#333" stroke-width="1.2"/>
<text x="736.4" y="640.83" font-size="14.7" text-anchor="start" fill="#000">15</text>
<line x1="725.8" y1="595.79" x2="730.6" y2="595.79" stroke="#333" stroke-width="1.2"/>
<text x="736.4" y="600.79" font-size="14.7" text-anchor="start" fill="#000">20</text>
<text x="436.1" y="741.2" font-size="14.7" text-anchor="middle" fill="#000">0</text>
<text x="493.85" y="741.2" font-size="14.7" text-anchor="middle" fill="#000">5</text>
<text x="551.6" y="741.2" font-size="14.7" text-anchor="middle" fill="#000">10</text>
<text x="609.35" y="741.2" font-size="14.7" text-anchor="middle" fill="#000">15</text>
<text x="667.1" y="741.2" font-size="14.7" text-anchor="middle" fill="#000">20</text>
<text x="430.4" y="577.5" font-size="14.7" text-anchor="start" fill="#000">cluster 2</text>
<text x="680.4" y="577.4" font-size="14.7"><tspan font-style="italic">n</tspan><tspan dx="2.6">=</tspan><tspan dx="2.6">6</tspan></text>
<text x="767.6" y="643.2" font-size="15" text-anchor="middle" transform="rotate(-90 767.6 643.2)" fill="#000">mean hourly</text>
<text x="785.6" y="643.2" font-size="15" text-anchor="middle" transform="rotate(-90 785.6 643.2)" fill="#000">temperature</text>
<line x1="764.5" y1="686.7" x2="764.5" y2="715.2" stroke="#E3281B" stroke-width="2.1" stroke-dasharray="5,2.5"/>
<clipPath id="pb2"><rect x="50.7" y="751.1" width="303.5" height="165.8"/></clipPath>
<g clip-path="url(#pb2)">
<path d="M64.5,878.14 C68.35,876.85 79.9,873.62 87.6,870.4 C95.3,867.17 103,862.98 110.7,858.79 C118.4,854.6 126.1,849.12 133.8,845.25 C141.5,841.38 149.2,837.83 156.9,835.57 C164.6,833.31 172.3,831.7 180,831.7 C187.7,831.7 195.4,833.31 203.1,835.57 C210.8,837.83 218.5,841.7 226.2,845.25 C233.9,848.79 241.6,852.66 249.3,856.86 C257,861.05 264.7,865.56 272.4,870.4 C280.1,875.24 287.8,881.37 295.5,885.88 C303.2,890.39 310.9,894.91 318.6,897.49 C326.3,900.07 337.85,900.72 341.7,901.36" fill="none" stroke="#C8C8C8" stroke-width="1.1"/>
<path d="M64.5,885.88 C68.35,884.27 79.9,880.4 87.6,876.21 C95.3,872.01 103,867.5 110.7,860.73 C118.4,853.95 126.1,842.67 133.8,835.57 C141.5,828.48 150.16,822.02 156.9,818.15 C163.64,814.28 168.45,812.03 174.23,812.35 C180,812.67 184.81,816.22 191.55,820.09 C198.29,823.96 206.95,830.41 214.65,835.57 C222.35,840.73 230.05,845.89 237.75,851.05 C245.45,856.21 253.15,861.05 260.85,866.53 C268.55,872.01 276.25,878.79 283.95,883.95 C291.65,889.11 297.43,894.26 307.05,897.49 C316.68,900.72 335.93,902.33 341.7,903.3" fill="none" stroke="#C8C8C8" stroke-width="1.1"/>
<path d="M64.5,905.23 C68.35,904.59 79.9,904.59 87.6,901.36 C95.3,898.13 103,894.26 110.7,885.88 C118.4,877.5 126.1,862.66 133.8,851.05 C141.5,839.44 149.2,824.61 156.9,816.22 C164.6,807.84 173.26,802.03 180,800.74 C186.74,799.45 191.55,803.97 197.33,808.48 C203.1,813 207.91,821.38 214.65,827.83 C221.39,834.28 230.05,841.38 237.75,847.18 C245.45,852.99 253.15,857.18 260.85,862.66 C268.55,868.14 276.25,874.59 283.95,880.08 C291.65,885.56 297.43,891.69 307.05,895.56 C316.68,899.43 335.93,902.01 341.7,903.3" fill="none" stroke="#C8C8C8" stroke-width="1.1"/>
<path d="M64.5,899.43 C68.35,898.46 79.9,897.81 87.6,893.62 C95.3,889.43 103,882.01 110.7,874.27 C118.4,866.53 126.1,852.99 133.8,847.18 C141.5,841.38 150.16,838.8 156.9,839.44 C163.64,840.09 168.45,845.25 174.23,851.05 C180,856.86 185.78,871.69 191.55,874.27 C197.33,876.85 203.1,870.4 208.88,866.53 C214.65,862.66 219.46,852.99 226.2,851.05 C232.94,849.12 241.6,851.05 249.3,854.92 C257,858.79 264.7,867.82 272.4,874.27 C280.1,880.72 283.95,889.11 295.5,893.62 C307.05,898.13 334,900.07 341.7,901.36" fill="none" stroke="#C8C8C8" stroke-width="1.1"/>
<path d="M64.5,893.62 C68.35,892.98 79.9,893.62 87.6,889.75 C95.3,885.88 103,876.2 110.7,870.4 C118.4,864.6 126.1,858.15 133.8,854.92 C141.5,851.7 149.2,852.34 156.9,851.05 C164.6,849.76 172.3,848.15 180,847.18 C187.7,846.21 195.4,845.25 203.1,845.25 C210.8,845.25 218.5,845.57 226.2,847.18 C233.9,848.79 241.6,851.05 249.3,854.92 C257,858.79 264.7,865.24 272.4,870.4 C280.1,875.56 287.8,881.37 295.5,885.88 C303.2,890.39 310.9,895.23 318.6,897.49 C326.3,899.75 337.85,899.1 341.7,899.43" fill="none" stroke="#C8C8C8" stroke-width="1.1"/>
<path d="M64.5,909.1 C68.35,908.46 79.9,908.46 87.6,905.23 C95.3,902 103,896.2 110.7,889.75 C118.4,883.3 126.1,872.98 133.8,866.53 C141.5,860.08 149.2,854.6 156.9,851.05 C164.6,847.5 172.3,847.18 180,845.25 C187.7,843.31 195.4,841.05 203.1,839.44 C210.8,837.83 218.5,835.25 226.2,835.57 C233.9,835.89 241.6,837.5 249.3,841.38 C257,845.25 264.7,852.02 272.4,858.79 C280.1,865.56 287.8,875.56 295.5,882.01 C303.2,888.46 310.9,894.26 318.6,897.49 C326.3,900.72 337.85,900.72 341.7,901.36" fill="none" stroke="#C8C8C8" stroke-width="1.1"/>
<path d="M64.5,889.75 C68.35,888.78 79.9,887.49 87.6,883.95 C95.3,880.4 103,873.95 110.7,868.47 C118.4,862.98 126.1,855.24 133.8,851.05 C141.5,846.86 149.2,843.31 156.9,843.31 C164.6,843.31 174.22,848.47 180,851.05 C185.78,853.63 186.74,858.79 191.55,858.79 C196.36,858.79 203.1,851.7 208.88,851.05 C214.65,850.41 219.46,851.7 226.2,854.92 C232.94,858.15 241.6,865.24 249.3,870.4 C257,875.56 264.7,881.37 272.4,885.88 C280.1,890.39 283.95,894.59 295.5,897.49 C307.05,900.39 334,902.33 341.7,903.3" fill="none" stroke="#C8C8C8" stroke-width="1.1"/>
<path d="M64.5,903.3 C68.35,902.65 79.9,901.68 87.6,899.43 C95.3,897.17 103,894.59 110.7,889.75 C118.4,884.91 126.1,876.2 133.8,870.4 C141.5,864.6 149.2,859.44 156.9,854.92 C164.6,850.41 172.3,847.18 180,843.31 C187.7,839.44 196.36,834.28 203.1,831.7 C209.84,829.12 214.65,827.19 220.43,827.83 C226.2,828.48 231.01,831.06 237.75,835.57 C244.49,840.09 253.15,847.83 260.85,854.92 C268.55,862.02 276.25,871.69 283.95,878.14 C291.65,884.59 297.43,890.07 307.05,893.62 C316.68,897.17 335.93,898.46 341.7,899.43" fill="none" stroke="#C8C8C8" stroke-width="1.1"/>
<path d="M64.5,882.01 C68.35,881.37 79.9,880.72 87.6,878.14 C95.3,875.56 103,871.04 110.7,866.53 C118.4,862.01 126.1,854.28 133.8,851.05 C141.5,847.83 149.2,846.54 156.9,847.18 C164.6,847.83 172.3,852.34 180,854.92 C187.7,857.5 195.4,860.73 203.1,862.66 C210.8,864.6 218.5,865.24 226.2,866.53 C233.9,867.82 241.6,868.14 249.3,870.4 C257,872.66 264.7,876.53 272.4,880.08 C280.1,883.62 287.8,888.46 295.5,891.69 C303.2,894.91 310.9,898.46 318.6,899.43 C326.3,900.39 337.85,897.81 341.7,897.49" fill="none" stroke="#C8C8C8" stroke-width="1.1"/>
<path d="M64.5,897.49 C68.35,897.17 79.9,898.14 87.6,895.56 C95.3,892.98 103,888.14 110.7,882.01 C118.4,875.88 126.1,865.88 133.8,858.79 C141.5,851.69 149.2,844.6 156.9,839.44 C164.6,834.28 172.3,830.09 180,827.83 C187.7,825.57 195.4,824.61 203.1,825.89 C210.8,827.18 218.5,831.38 226.2,835.57 C233.9,839.76 241.6,845.25 249.3,851.05 C257,856.86 264.7,863.95 272.4,870.4 C280.1,876.85 287.8,884.91 295.5,889.75 C303.2,894.59 310.9,897.17 318.6,899.43 C326.3,901.68 337.85,902.65 341.7,903.3" fill="none" stroke="#C8C8C8" stroke-width="1.1"/>
<path d="M64.5,907.17 C68.35,907.17 80.86,908.13 87.6,907.17 C94.34,906.2 99.15,905.88 104.93,901.36 C110.7,896.85 115.51,888.46 122.25,880.08 C128.99,871.69 138.61,857.18 145.35,851.05 C152.09,844.92 156.9,842.34 162.68,843.31 C168.45,844.28 174.22,853.63 180,856.86 C185.78,860.08 191.55,862.98 197.33,862.66 C203.1,862.34 207.91,855.57 214.65,854.92 C221.39,854.28 230.05,855.56 237.75,858.79 C245.45,862.01 253.15,869.11 260.85,874.27 C268.55,879.43 276.25,885.24 283.95,889.75 C291.65,894.26 297.43,898.78 307.05,901.36 C316.68,903.94 335.93,904.59 341.7,905.23" fill="none" stroke="#C8C8C8" stroke-width="1.1"/>
<path d="M64.5,891.69 C68.35,890.72 79.9,888.78 87.6,885.88 C95.3,882.98 103,878.46 110.7,874.27 C118.4,870.08 126.1,863.63 133.8,860.73 C141.5,857.82 149.2,857.18 156.9,856.86 C164.6,856.53 172.3,858.14 180,858.79 C187.7,859.43 195.4,860.73 203.1,860.73 C210.8,860.73 218.5,858.79 226.2,858.79 C233.9,858.79 241.6,858.79 249.3,860.73 C257,862.66 264.7,866.21 272.4,870.4 C280.1,874.59 287.8,881.69 295.5,885.88 C303.2,890.07 310.9,893.62 318.6,895.56 C326.3,897.49 337.85,897.17 341.7,897.49" fill="none" stroke="#C8C8C8" stroke-width="1.1"/>
<path d="M64.5,901.36 C68.35,900.72 79.9,901.36 87.6,897.49 C95.3,893.62 103,886.52 110.7,878.14 C118.4,869.75 126.1,855.57 133.8,847.18 C141.5,838.8 150.16,831.7 156.9,827.83 C163.64,823.96 168.45,823.32 174.23,823.96 C180,824.61 184.81,827.83 191.55,831.7 C198.29,835.57 206.95,842.02 214.65,847.18 C222.35,852.34 230.05,857.5 237.75,862.66 C245.45,867.82 253.15,872.98 260.85,878.14 C268.55,883.3 278.18,889.75 283.95,893.62 C289.73,897.49 293.57,900.07 295.5,901.36" fill="none" stroke="#C8C8C8" stroke-width="1.1"/>
<path d="M64.5,887.82 C68.35,887.49 79.9,887.82 87.6,885.88 C95.3,883.94 103,880.08 110.7,876.21 C118.4,872.34 126.1,866.85 133.8,862.66 C141.5,858.47 149.2,854.92 156.9,851.05 C164.6,847.18 172.3,842.02 180,839.44 C187.7,836.86 195.4,835.57 203.1,835.57 C210.8,835.57 218.5,837.51 226.2,839.44 C233.9,841.38 241.6,843.31 249.3,847.18 C257,851.05 264.7,856.86 272.4,862.66 C280.1,868.47 287.8,876.85 295.5,882.01 C303.2,887.17 310.9,891.36 318.6,893.62 C326.3,895.88 337.85,895.23 341.7,895.56" fill="none" stroke="#C8C8C8" stroke-width="1.1"/>
<path d="M64.5,905.23 C68.35,904.59 79.9,903.3 87.6,901.36 C95.3,899.42 103,897.49 110.7,893.62 C118.4,889.75 126.1,883.3 133.8,878.14 C141.5,872.98 149.2,867.18 156.9,862.66 C164.6,858.15 172.3,853.63 180,851.05 C187.7,848.47 195.4,847.18 203.1,847.18 C210.8,847.18 218.5,849.12 226.2,851.05 C233.9,852.99 241.6,855.56 249.3,858.79 C257,862.01 264.7,865.88 272.4,870.4 C280.1,874.91 287.8,881.04 295.5,885.88 C303.2,890.72 310.9,896.2 318.6,899.43 C326.3,902.65 337.85,904.26 341.7,905.23" fill="none" stroke="#C8C8C8" stroke-width="1.1"/>
<path d="M64.5,895.56 C68.35,894.91 79.9,894.27 87.6,891.69 C95.3,889.11 103,884.91 110.7,880.08 C118.4,875.24 126.1,867.5 133.8,862.66 C141.5,857.82 149.2,850.41 156.9,851.05 C164.6,851.7 174.22,862.66 180,866.53 C185.78,870.4 186.74,874.91 191.55,874.27 C196.36,873.62 203.1,866.53 208.88,862.66 C214.65,858.79 219.46,851.7 226.2,851.05 C232.94,850.41 241.6,854.27 249.3,858.79 C257,863.3 264.7,872.34 272.4,878.14 C280.1,883.94 283.95,889.75 295.5,893.62 C307.05,897.49 334,900.07 341.7,901.36" fill="none" stroke="#C8C8C8" stroke-width="1.1"/>
<path d="M64.5,883.95 C68.35,883.3 79.9,882.33 87.6,880.08 C95.3,877.82 103,874.27 110.7,870.4 C118.4,866.53 126.1,861.05 133.8,856.86 C141.5,852.66 149.2,848.79 156.9,845.25 C164.6,841.7 172.3,836.54 180,835.57 C187.7,834.6 195.4,836.86 203.1,839.44 C210.8,842.02 218.5,846.54 226.2,851.05 C233.9,855.57 241.6,861.37 249.3,866.53 C257,871.69 264.7,877.5 272.4,882.01 C280.1,886.52 287.8,890.72 295.5,893.62 C303.2,896.52 310.9,898.78 318.6,899.43 C326.3,900.07 337.85,897.81 341.7,897.49" fill="none" stroke="#C8C8C8" stroke-width="1.1"/>
<path d="M64.5,903.3 C67.39,903.62 76.05,905.23 81.83,905.23 C87.6,905.23 93.38,905.23 99.15,903.3 C104.93,901.36 110.7,899.1 116.47,893.62 C122.25,888.14 127.06,877.5 133.8,870.4 C140.54,863.3 149.2,855.89 156.9,851.05 C164.6,846.21 172.3,842.34 180,841.38 C187.7,840.41 195.4,842.99 203.1,845.25 C210.8,847.5 218.5,851.37 226.2,854.92 C233.9,858.47 241.6,862.66 249.3,866.53 C257,870.4 264.7,874.27 272.4,878.14 C280.1,882.01 287.8,886.2 295.5,889.75 C303.2,893.3 310.9,897.17 318.6,899.43 C326.3,901.68 337.85,902.65 341.7,903.3" fill="none" stroke="#C8C8C8" stroke-width="1.1"/>
<path d="M64.5,897.49 C68.35,896.2 79.9,894.26 87.6,889.75 C95.3,885.24 103,878.14 110.7,870.4 C118.4,862.66 126.1,851.05 133.8,843.31 C141.5,835.57 149.2,828.48 156.9,823.96 C164.6,819.45 172.3,816.54 180,816.22 C187.7,815.9 195.4,818.8 203.1,822.02 C210.8,825.25 218.5,830.73 226.2,835.57 C233.9,840.41 241.6,845.25 249.3,851.05 C257,856.86 264.7,863.95 272.4,870.4 C280.1,876.85 287.8,884.91 295.5,889.75 C303.2,894.59 310.9,897.81 318.6,899.43 C326.3,901.04 337.85,899.43 341.7,899.43" fill="none" stroke="#C8C8C8" stroke-width="1.1"/>
<path d="M64.5,909.1 C68.35,908.13 79.9,905.88 87.6,903.3 C95.3,900.72 103,897.49 110.7,893.62 C118.4,889.75 126.1,883.95 133.8,880.08 C141.5,876.21 149.2,873.3 156.9,870.4 C164.6,867.5 172.3,864.6 180,862.66 C187.7,860.73 195.4,858.79 203.1,858.79 C210.8,858.79 218.5,860.73 226.2,862.66 C233.9,864.6 241.6,867.5 249.3,870.4 C257,873.3 264.7,876.85 272.4,880.08 C280.1,883.3 287.8,886.85 295.5,889.75 C303.2,892.65 310.9,895.56 318.6,897.49 C326.3,899.42 337.85,900.72 341.7,901.36" fill="none" stroke="#C8C8C8" stroke-width="1.1"/>
<path d="M65.2,894 C69.43,892.32 81.98,888.63 90.6,883.9 C99.22,879.17 109.13,871.35 116.9,865.6 C124.67,859.85 131.45,854.8 137.2,849.4 C142.95,844 147,838.27 151.4,833.2 C155.8,828.13 159.53,823.73 163.6,819 C167.67,814.27 171.75,809.2 175.8,804.8 C179.85,800.4 184.18,796.15 187.9,792.6 C191.62,789.05 195.07,785.37 198.1,783.5 C201.13,781.63 203.75,781.57 206.1,781.4 C208.45,781.23 209.17,781.48 212.2,782.5 C215.23,783.52 219.57,785.13 224.3,787.5 C229.03,789.87 235.87,793.15 240.6,796.7 C245.33,800.25 248.65,804.75 252.7,808.8 C256.75,812.85 260.83,816.93 264.9,821 C268.97,825.07 273.05,829.15 277.1,833.2 C281.15,837.25 285.15,840.92 289.2,845.3 C293.25,849.68 297.33,855.1 301.4,859.5 C305.47,863.9 309.53,867.98 313.6,871.7 C317.67,875.42 322.42,878.75 325.8,881.8 C329.18,884.85 331.37,887.45 333.9,890 C336.43,892.55 339.82,895.92 341,897.1" fill="none" stroke="#DADADA" stroke-width="6" stroke-linecap="butt"/>
<path d="M64.6,900 C66.67,899.83 72.67,899.67 77,899 C81.33,898.33 86.6,897.67 90.6,896 C94.6,894.33 97.62,891.7 101,889 C104.38,886.3 107.57,883.3 110.9,879.8 C114.23,876.3 117.63,871.72 121,868 C124.37,864.28 127.38,861.28 131.1,857.5 C134.82,853.72 139.23,848.35 143.3,845.3 C147.37,842.25 150.77,840.55 155.5,839.2 C160.23,837.85 166.62,837.23 171.7,837.2 C176.78,837.17 181.28,837.82 186,839 C190.72,840.18 194.28,842.23 200,844.3 C205.72,846.37 213.53,848.52 220.3,851.4 C227.07,854.28 234.52,858.22 240.6,861.6 C246.68,864.98 252.07,868.33 256.8,871.7 C261.53,875.07 264.95,878.42 269,881.8 C273.05,885.18 277.05,889.12 281.1,892 C285.15,894.88 288.9,897.42 293.3,899.1 C297.7,900.78 302.77,901.53 307.5,902.1 C312.23,902.67 316.12,902.5 321.7,902.5 C327.28,902.5 337.78,902.17 341,902.1" fill="none" stroke="#1DBDC1" stroke-width="4.6"/>
<path d="M65.2,894 C69.43,892.32 81.98,888.63 90.6,883.9 C99.22,879.17 109.13,871.35 116.9,865.6 C124.67,859.85 131.45,854.8 137.2,849.4 C142.95,844 147,838.27 151.4,833.2 C155.8,828.13 159.53,823.73 163.6,819 C167.67,814.27 171.75,809.2 175.8,804.8 C179.85,800.4 184.18,796.15 187.9,792.6 C191.62,789.05 195.07,785.37 198.1,783.5 C201.13,781.63 203.75,781.57 206.1,781.4 C208.45,781.23 209.17,781.48 212.2,782.5 C215.23,783.52 219.57,785.13 224.3,787.5 C229.03,789.87 235.87,793.15 240.6,796.7 C245.33,800.25 248.65,804.75 252.7,808.8 C256.75,812.85 260.83,816.93 264.9,821 C268.97,825.07 273.05,829.15 277.1,833.2 C281.15,837.25 285.15,840.92 289.2,845.3 C293.25,849.68 297.33,855.1 301.4,859.5 C305.47,863.9 309.53,867.98 313.6,871.7 C317.67,875.42 322.42,878.75 325.8,881.8 C329.18,884.85 331.37,887.45 333.9,890 C336.43,892.55 339.82,895.92 341,897.1" fill="none" stroke="#E5301A" stroke-width="3.2" stroke-dasharray="11.5,8.5"/>
</g>
<rect x="50.7" y="751.1" width="303.5" height="165.8" fill="none" stroke="#7a7a7a" stroke-width="1.5"/>
<line x1="44.4" y1="909.1" x2="50.7" y2="909.1" stroke="#333" stroke-width="1.2"/>
<text x="39.5" y="914.1" font-size="14.7" text-anchor="end" fill="#000">0</text>
<line x1="44.4" y1="870.4" x2="50.7" y2="870.4" stroke="#333" stroke-width="1.2"/>
<text x="39.5" y="875.4" font-size="14.7" text-anchor="end" fill="#000">0.2</text>
<line x1="44.4" y1="831.7" x2="50.7" y2="831.7" stroke="#333" stroke-width="1.2"/>
<text x="39.5" y="836.7" font-size="14.7" text-anchor="end" fill="#000">0.4</text>
<line x1="44.4" y1="793" x2="50.7" y2="793" stroke="#333" stroke-width="1.2"/>
<text x="39.5" y="798" font-size="14.7" text-anchor="end" fill="#000">0.6</text>
<line x1="354.2" y1="908.6" x2="359" y2="908.6" stroke="#333" stroke-width="1.2"/>
<text x="364.8" y="913.6" font-size="14.7" text-anchor="start" fill="#000">5</text>
<line x1="354.2" y1="868.57" x2="359" y2="868.57" stroke="#333" stroke-width="1.2"/>
<text x="364.8" y="873.57" font-size="14.7" text-anchor="start" fill="#000">10</text>
<line x1="354.2" y1="828.53" x2="359" y2="828.53" stroke="#333" stroke-width="1.2"/>
<text x="364.8" y="833.53" font-size="14.7" text-anchor="start" fill="#000">15</text>
<line x1="354.2" y1="788.5" x2="359" y2="788.5" stroke="#333" stroke-width="1.2"/>
<text x="364.8" y="793.5" font-size="14.7" text-anchor="start" fill="#000">20</text>
<text x="64.5" y="933.9" font-size="14.7" text-anchor="middle" fill="#000">0</text>
<text x="122.25" y="933.9" font-size="14.7" text-anchor="middle" fill="#000">5</text>
<text x="180" y="933.9" font-size="14.7" text-anchor="middle" fill="#000">10</text>
<text x="237.75" y="933.9" font-size="14.7" text-anchor="middle" fill="#000">15</text>
<text x="295.5" y="933.9" font-size="14.7" text-anchor="middle" fill="#000">20</text>
<text x="58.8" y="770.2" font-size="14.7" text-anchor="start" fill="#000">cluster 3</text>
<text x="308.8" y="770.1" font-size="14.7"><tspan font-style="italic">n</tspan><tspan dx="2.6">=</tspan><tspan dx="2.6">20</tspan></text>
<text x="14.5" y="834.1" font-size="15" text-anchor="middle" transform="rotate(-90 14.5 834.1)" fill="#000">locomotion score</text>
<clipPath id="pb3"><rect x="422.3" y="752" width="303.5" height="165.8"/></clipPath>
<g clip-path="url(#pb3)">
<path d="M436.1,892.59 C439.95,891.62 451.5,891.94 459.2,886.78 C466.9,881.62 474.6,870.65 482.3,861.62 C490,852.6 499.24,839.05 505.4,832.6 C511.56,826.15 514.45,823.89 519.26,822.92 C524.07,821.96 529.46,825.18 534.28,826.79 C539.09,828.41 542.55,833.57 548.13,832.6 C553.72,831.63 561.42,823.25 567.77,820.99 C574.12,818.73 580.28,817.77 586.25,819.06 C592.22,820.35 597.8,823.89 603.58,828.73 C609.35,833.57 614.16,840.99 620.9,848.08 C627.64,855.18 636.3,864.2 644,871.3 C651.7,878.39 659.4,885.81 667.1,890.65 C674.8,895.49 682.5,898.07 690.2,900.33 C697.9,902.58 709.45,903.55 713.3,904.2" fill="none" stroke="#C8C8C8" stroke-width="1.1"/>
<path d="M436.1,910 C439.95,908.07 451.5,904.84 459.2,898.39 C466.9,891.94 475.56,879.04 482.3,871.3 C489.04,863.56 493.85,854.21 499.62,851.95 C505.4,849.69 511.18,855.82 516.95,857.75 C522.73,859.69 528.5,864.53 534.28,863.56 C540.05,862.59 544.86,857.75 551.6,851.95 C558.34,846.15 566.62,836.15 574.7,828.73 C582.79,821.31 593.37,809.38 600.11,807.44 C606.85,805.51 609.74,810.35 615.12,817.12 C620.51,823.89 625.71,837.76 632.45,848.08 C639.19,858.4 647.85,870.98 655.55,879.04 C663.25,887.1 669.03,892.59 678.65,896.46 C688.28,900.33 707.53,901.29 713.3,902.26" fill="none" stroke="#C8C8C8" stroke-width="1.1"/>
<path d="M436.1,900.33 C439.95,899.36 451.5,898.71 459.2,894.52 C466.9,890.33 474.6,881.62 482.3,875.17 C490,868.72 497.7,860.66 505.4,855.82 C513.1,850.98 520.8,848.4 528.5,846.14 C536.2,843.89 543.9,843.56 551.6,842.27 C559.3,840.99 567,838.73 574.7,838.4 C582.4,838.08 590.1,838.08 597.8,840.34 C605.5,842.6 613.2,846.79 620.9,851.95 C628.6,857.11 636.3,865.17 644,871.3 C651.7,877.43 659.4,884.2 667.1,888.72 C674.8,893.23 682.5,896.45 690.2,898.39 C697.9,900.33 709.45,900 713.3,900.33" fill="none" stroke="#C8C8C8" stroke-width="1.1"/>
<path d="M436.1,906.13 C439.95,905.16 451.5,903.55 459.2,900.33 C466.9,897.1 474.6,891.62 482.3,886.78 C490,881.94 497.7,876.14 505.4,871.3 C513.1,866.46 520.8,861.62 528.5,857.75 C536.2,853.88 543.9,850.98 551.6,848.08 C559.3,845.18 568.35,845.18 574.7,840.34 C581.05,835.5 583.94,820.99 589.72,819.06 C595.49,817.12 602.23,822.6 609.35,828.73 C616.47,834.86 624.75,846.79 632.45,855.82 C640.15,864.85 647.85,875.81 655.55,882.91 C663.25,890 669.03,894.52 678.65,898.39 C688.28,902.26 707.53,904.84 713.3,906.13" fill="none" stroke="#C8C8C8" stroke-width="1.1"/>
<path d="M436.1,896.46 C439.95,895.81 451.5,894.84 459.2,892.59 C466.9,890.33 474.6,886.46 482.3,882.91 C490,879.36 497.7,873.23 505.4,871.3 C513.1,869.37 520.8,871.62 528.5,871.3 C536.2,870.98 543.9,870.01 551.6,869.37 C559.3,868.72 567,868.07 574.7,867.43 C582.4,866.78 590.1,864.85 597.8,865.5 C605.5,866.14 613.2,868.4 620.9,871.3 C628.6,874.2 636.3,879.04 644,882.91 C651.7,886.78 659.4,891.94 667.1,894.52 C674.8,897.1 682.5,898.07 690.2,898.39 C697.9,898.71 709.45,896.78 713.3,896.46" fill="none" stroke="#C8C8C8" stroke-width="1.1"/>
<path d="M436.1,904.2 C439.95,903.23 451.5,902.58 459.2,898.39 C466.9,894.2 474.6,886.78 482.3,879.04 C490,871.3 497.7,858.72 505.4,851.95 C513.1,845.18 520.8,840.66 528.5,838.4 C536.2,836.15 543.9,838.73 551.6,838.4 C559.3,838.08 567,836.47 574.7,836.47 C582.4,836.47 590.1,836.79 597.8,838.4 C605.5,840.02 613.2,842.27 620.9,846.14 C628.6,850.01 636.3,855.82 644,861.62 C651.7,867.43 659.4,875.49 667.1,880.98 C674.8,886.46 682.5,891.62 690.2,894.52 C697.9,897.42 709.45,897.75 713.3,898.39" fill="none" stroke="#C8C8C8" stroke-width="1.1"/>
<path d="M441.88,910 C444.76,908.71 452.46,905.49 459.2,902.26 C465.94,899.03 474.6,894.52 482.3,890.65 C490,886.78 497.7,881.62 505.4,879.04 C513.1,876.46 520.8,876.46 528.5,875.17 C536.2,873.88 543.9,872.91 551.6,871.3 C559.3,869.69 567,866.78 574.7,865.5 C582.4,864.21 590.1,862.59 597.8,863.56 C605.5,864.53 613.2,867.75 620.9,871.3 C628.6,874.85 636.3,880.98 644,884.85 C651.7,888.72 659.4,891.62 667.1,894.52 C674.8,897.42 682.5,900.65 690.2,902.26 C697.9,903.87 709.45,903.87 713.3,904.2" fill="none" stroke="#C8C8C8" stroke-width="1.1"/>
<path d="M436.1,902.26 C439.95,901.29 451.5,900.97 459.2,896.46 C466.9,891.94 474.6,882.59 482.3,875.17 C490,867.75 497.7,856.14 505.4,851.95 C513.1,847.76 520.8,850.98 528.5,850.01 C536.2,849.05 543.9,847.11 551.6,846.14 C559.3,845.18 567,844.86 574.7,844.21 C582.4,843.57 590.1,841.63 597.8,842.27 C605.5,842.92 613.2,844.53 620.9,848.08 C628.6,851.63 636.3,858.4 644,863.56 C651.7,868.72 659.4,874.52 667.1,879.04 C674.8,883.55 684.43,888.07 690.2,890.65 C695.98,893.23 697.9,896.45 701.75,894.52 C705.6,892.59 711.38,881.62 713.3,879.04" fill="none" stroke="#C8C8C8" stroke-width="1.1"/>
<path d="M436.1,890.65 C439.95,890.33 451.5,890.33 459.2,888.72 C466.9,887.1 475.56,884.52 482.3,880.98 C489.04,877.43 493.85,872.27 499.62,867.43 C505.4,862.59 511.18,855.18 516.95,851.95 C522.73,848.73 528.5,849.05 534.28,848.08 C540.05,847.11 544.86,846.47 551.6,846.14 C558.34,845.82 567,845.5 574.7,846.14 C582.4,846.79 590.1,847.11 597.8,850.01 C605.5,852.92 613.2,858.4 620.9,863.56 C628.6,868.72 636.3,875.82 644,880.98 C651.7,886.13 659.4,891.29 667.1,894.52 C674.8,897.75 682.5,899.68 690.2,900.33 C697.9,900.97 709.45,898.71 713.3,898.39" fill="none" stroke="#C8C8C8" stroke-width="1.1"/>
<path d="M447.65,910 C450.54,909.03 459.2,907.42 464.98,904.2 C470.75,900.97 475.56,896.13 482.3,890.65 C489.04,885.17 497.7,876.46 505.4,871.3 C513.1,866.14 520.8,862.59 528.5,859.69 C536.2,856.79 543.9,855.5 551.6,853.88 C559.3,852.27 567,850.34 574.7,850.01 C582.4,849.69 590.1,850.34 597.8,851.95 C605.5,853.56 613.2,856.47 620.9,859.69 C628.6,862.92 636.3,866.78 644,871.3 C651.7,875.81 659.4,882.26 667.1,886.78 C674.8,891.29 682.5,896.13 690.2,898.39 C697.9,900.65 709.45,900 713.3,900.33" fill="none" stroke="#C8C8C8" stroke-width="1.1"/>
<path d="M436.1,898.39 C439.95,897.1 451.5,895.81 459.2,890.65 C466.9,885.49 474.6,875.17 482.3,867.43 C490,859.69 498.66,848.73 505.4,844.21 C512.14,839.7 516.95,840.02 522.73,840.34 C528.5,840.66 533.31,846.14 540.05,846.14 C546.79,846.14 555.45,841.95 563.15,840.34 C570.85,838.73 578.55,836.15 586.25,836.47 C593.95,836.79 601.65,837.76 609.35,842.27 C617.05,846.79 624.75,856.14 632.45,863.56 C640.15,870.98 647.85,880.97 655.55,886.78 C663.25,892.59 669.03,897.1 678.65,898.39 C688.28,899.68 707.53,895.16 713.3,894.52" fill="none" stroke="#C8C8C8" stroke-width="1.1"/>
<path d="M436.2,886.3 C438.57,886.07 445.67,885.98 450.4,884.9 C455.13,883.82 459.87,882.33 464.6,879.8 C469.33,877.27 474.07,872.73 478.8,869.7 C483.53,866.67 488.27,864.98 493,861.6 C497.73,858.22 502.8,853.8 507.2,849.4 C511.6,845 515.35,839.93 519.4,835.2 C523.45,830.47 527.45,826.07 531.5,821 C535.55,815.93 539.98,809.87 543.7,804.8 C547.42,799.73 550.42,795 553.8,790.6 C557.18,786.2 560.95,781.45 564,778.4 C567.05,775.35 569.75,773.48 572.1,772.3 C574.45,771.12 575.07,771.03 578.1,771.3 C581.13,771.57 586.23,772.38 590.3,773.9 C594.37,775.42 598.45,777.97 602.5,780.4 C606.55,782.83 610.55,785.12 614.6,788.5 C618.65,791.88 622.73,796.3 626.8,800.7 C630.87,805.1 634.95,810.17 639,814.9 C643.05,819.63 647.05,824.37 651.1,829.1 C655.15,833.83 659.23,838.57 663.3,843.3 C667.37,848.03 671.45,853.1 675.5,857.5 C679.55,861.9 683.55,865.3 687.6,869.7 C691.65,874.1 695.73,879.52 699.8,883.9 C703.87,888.28 709.97,893.98 712,896" fill="none" stroke="#DADADA" stroke-width="6" stroke-linecap="butt"/>
<path d="M436.2,902.1 C438.9,901.77 446.98,901.28 452.4,900.1 C457.82,898.92 463.97,897.03 468.7,895 C473.43,892.97 477.08,890.77 480.8,887.9 C484.52,885.03 487.62,881.52 491,877.8 C494.38,874.08 497.73,869.48 501.1,865.6 C504.47,861.72 507.82,857.2 511.2,854.5 C514.58,851.8 518.02,850.18 521.4,849.4 C524.78,848.62 527.78,849.13 531.5,849.8 C535.22,850.47 539.98,852.62 543.7,853.4 C547.42,854.18 550.42,854.83 553.8,854.5 C557.18,854.17 560.62,853.27 564,851.4 C567.38,849.53 571.42,845.33 574.1,843.3 C576.78,841.27 577.4,840.72 580.1,839.2 C582.8,837.68 587.25,835.2 590.3,834.2 C593.35,833.2 595.37,832.7 598.4,833.2 C601.43,833.7 605.12,835.18 608.5,837.2 C611.88,839.22 615.32,842.25 618.7,845.3 C622.08,848.35 625.42,852.12 628.8,855.5 C632.18,858.88 635.28,862.22 639,865.6 C642.72,868.98 647.05,872.42 651.1,875.8 C655.15,879.18 659.23,882.53 663.3,885.9 C667.37,889.27 671.45,893.13 675.5,896 C679.55,898.87 683.55,901.73 687.6,903.1 C691.65,904.47 695.57,904.53 699.8,904.2 C704.03,903.87 710.8,901.62 713,901.1" fill="none" stroke="#C184F7" stroke-width="4.6"/>
<path d="M436.2,886.3 C438.57,886.07 445.67,885.98 450.4,884.9 C455.13,883.82 459.87,882.33 464.6,879.8 C469.33,877.27 474.07,872.73 478.8,869.7 C483.53,866.67 488.27,864.98 493,861.6 C497.73,858.22 502.8,853.8 507.2,849.4 C511.6,845 515.35,839.93 519.4,835.2 C523.45,830.47 527.45,826.07 531.5,821 C535.55,815.93 539.98,809.87 543.7,804.8 C547.42,799.73 550.42,795 553.8,790.6 C557.18,786.2 560.95,781.45 564,778.4 C567.05,775.35 569.75,773.48 572.1,772.3 C574.45,771.12 575.07,771.03 578.1,771.3 C581.13,771.57 586.23,772.38 590.3,773.9 C594.37,775.42 598.45,777.97 602.5,780.4 C606.55,782.83 610.55,785.12 614.6,788.5 C618.65,791.88 622.73,796.3 626.8,800.7 C630.87,805.1 634.95,810.17 639,814.9 C643.05,819.63 647.05,824.37 651.1,829.1 C655.15,833.83 659.23,838.57 663.3,843.3 C667.37,848.03 671.45,853.1 675.5,857.5 C679.55,861.9 683.55,865.3 687.6,869.7 C691.65,874.1 695.73,879.52 699.8,883.9 C703.87,888.28 709.97,893.98 712,896" fill="none" stroke="#E5301A" stroke-width="3.2" stroke-dasharray="11.5,8.5"/>
</g>
<rect x="422.3" y="752" width="303.5" height="165.8" fill="none" stroke="#7a7a7a" stroke-width="1.5"/>
<line x1="416" y1="910" x2="422.3" y2="910" stroke="#333" stroke-width="1.2"/>
<text x="411.1" y="915" font-size="14.7" text-anchor="end" fill="#000">0</text>
<line x1="416" y1="871.3" x2="422.3" y2="871.3" stroke="#333" stroke-width="1.2"/>
<text x="411.1" y="876.3" font-size="14.7" text-anchor="end" fill="#000">0.2</text>
<line x1="416" y1="832.6" x2="422.3" y2="832.6" stroke="#333" stroke-width="1.2"/>
<text x="411.1" y="837.6" font-size="14.7" text-anchor="end" fill="#000">0.4</text>
<line x1="416" y1="793.9" x2="422.3" y2="793.9" stroke="#333" stroke-width="1.2"/>
<text x="411.1" y="798.9" font-size="14.7" text-anchor="end" fill="#000">0.6</text>
<line x1="725.8" y1="909.5" x2="730.6" y2="909.5" stroke="#333" stroke-width="1.2"/>
<text x="736.4" y="914.5" font-size="14.7" text-anchor="start" fill="#000">5</text>
<line x1="725.8" y1="869.47" x2="730.6" y2="869.47" stroke="#333" stroke-width="1.2"/>
<text x="736.4" y="874.47" font-size="14.7" text-anchor="start" fill="#000">10</text>
<line x1="725.8" y1="829.43" x2="730.6" y2="829.43" stroke="#333" stroke-width="1.2"/>
<text x="736.4" y="834.43" font-size="14.7" text-anchor="start" fill="#000">15</text>
<line x1="725.8" y1="789.39" x2="730.6" y2="789.39" stroke="#333" stroke-width="1.2"/>
<text x="736.4" y="794.39" font-size="14.7" text-anchor="start" fill="#000">20</text>
<text x="436.1" y="934.8" font-size="14.7" text-anchor="middle" fill="#000">0</text>
<text x="493.85" y="934.8" font-size="14.7" text-anchor="middle" fill="#000">5</text>
<text x="551.6" y="934.8" font-size="14.7" text-anchor="middle" fill="#000">10</text>
<text x="609.35" y="934.8" font-size="14.7" text-anchor="middle" fill="#000">15</text>
<text x="667.1" y="934.8" font-size="14.7" text-anchor="middle" fill="#000">20</text>
<text x="430.4" y="771.1" font-size="14.7" text-anchor="start" fill="#000">cluster 4</text>
<text x="680.4" y="771" font-size="14.7"><tspan font-style="italic">n</tspan><tspan dx="2.6">=</tspan><tspan dx="2.6">11</tspan></text>
<text x="767.6" y="836.8" font-size="15" text-anchor="middle" transform="rotate(-90 767.6 836.8)" fill="#000">mean hourly</text>
<text x="785.6" y="836.8" font-size="15" text-anchor="middle" transform="rotate(-90 785.6 836.8)" fill="#000">temperature</text>
<line x1="764.5" y1="880.3" x2="764.5" y2="908.8" stroke="#E3281B" stroke-width="2.1" stroke-dasharray="5,2.5"/>
</svg>
</body></html>
